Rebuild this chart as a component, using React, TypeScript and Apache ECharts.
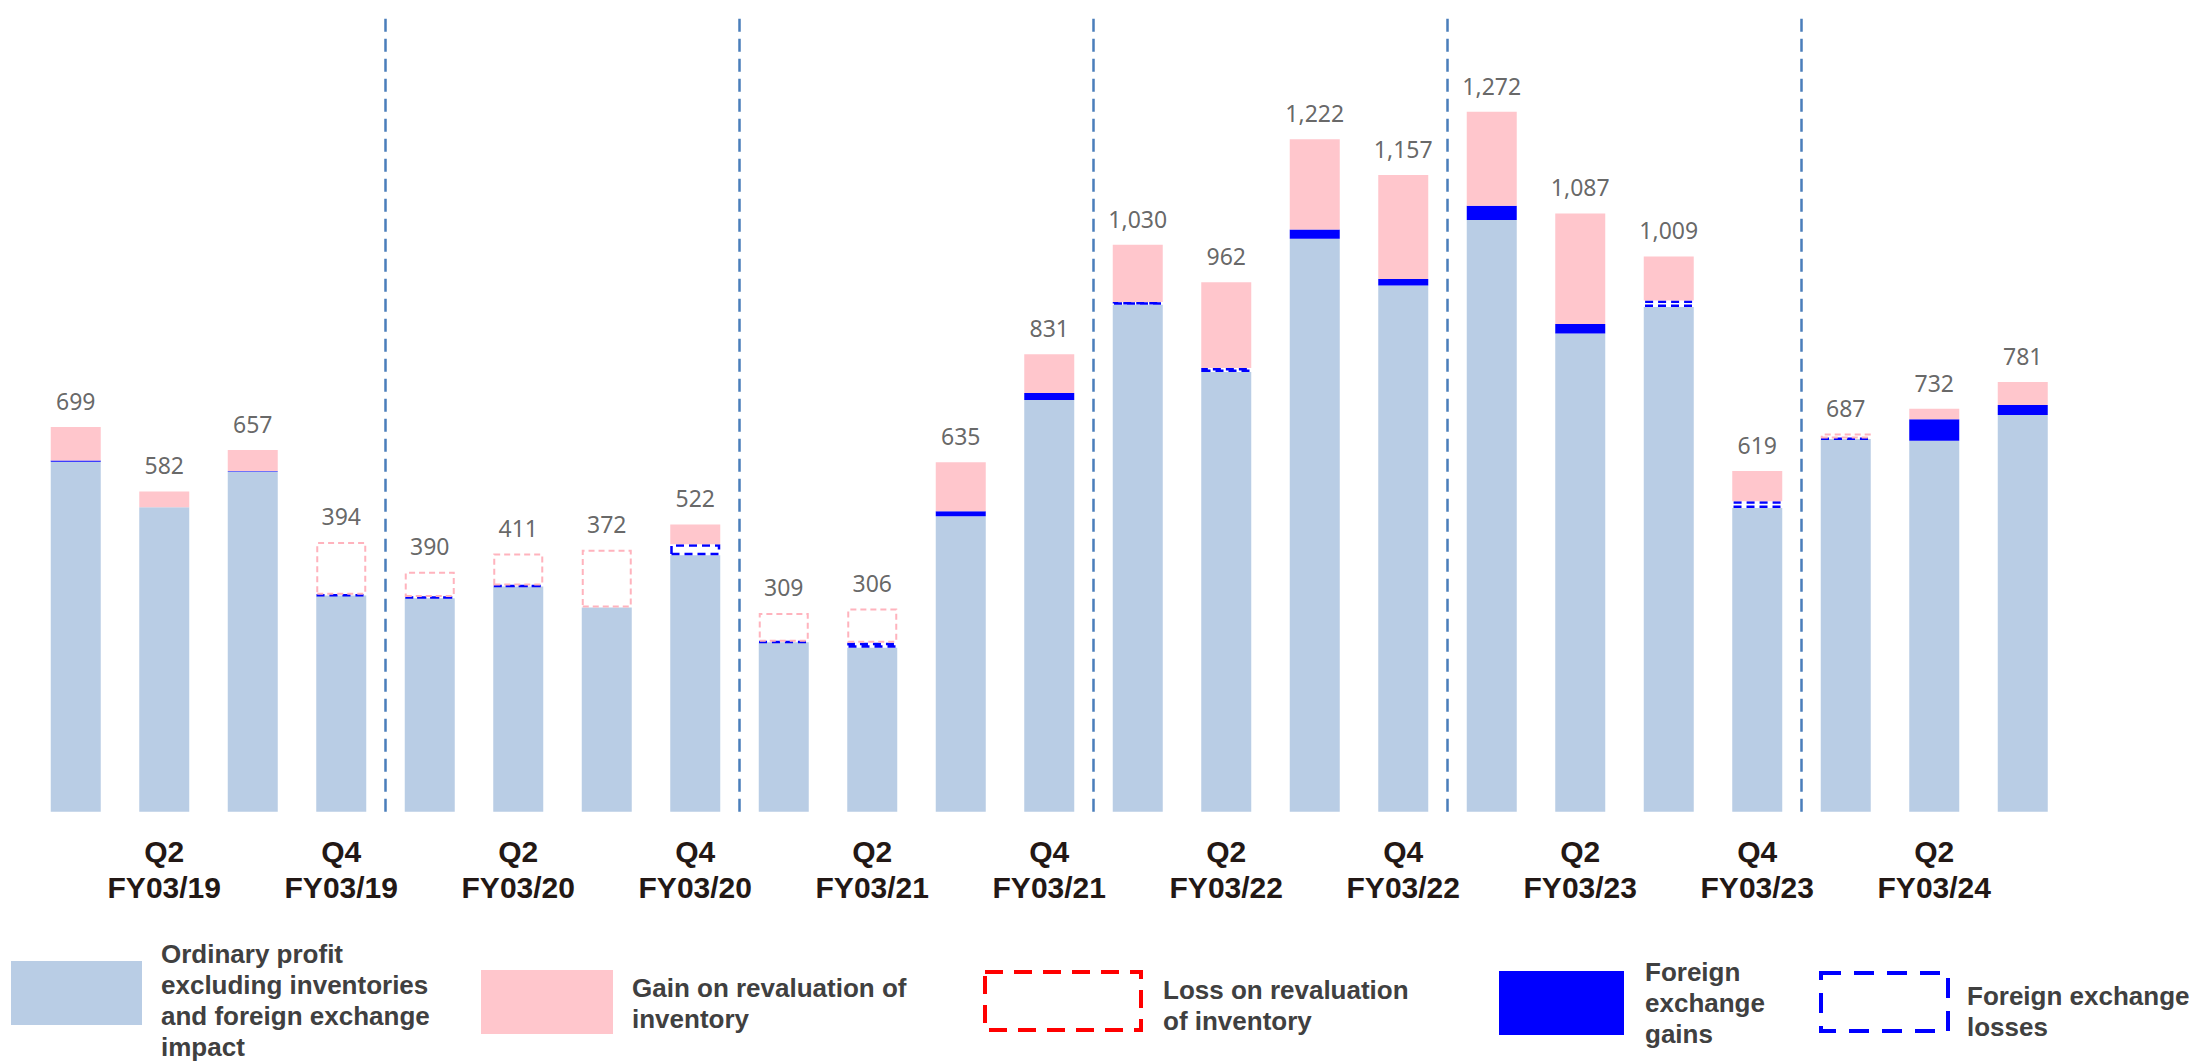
import React, { useEffect, useRef } from "react";
import * as echarts from "echarts";

// ---- data ----
const categories = [
  "Q1 FY03/19", "Q2 FY03/19", "Q3 FY03/19", "Q4 FY03/19",
  "Q1 FY03/20", "Q2 FY03/20", "Q3 FY03/20", "Q4 FY03/20",
  "Q1 FY03/21", "Q2 FY03/21", "Q3 FY03/21", "Q4 FY03/21",
  "Q1 FY03/22", "Q2 FY03/22", "Q3 FY03/22", "Q4 FY03/22",
  "Q1 FY03/23", "Q2 FY03/23", "Q3 FY03/23", "Q4 FY03/23",
  "Q1 FY03/24", "Q2 FY03/24", "Q3 FY03/24",
];
const totals = [699, 582, 657, 394, 390, 411, 372, 522, 309, 306, 635, 831, 1030, 962, 1222, 1157, 1272, 1087, 1009, 619, 687, 732, 781];
const baseProfit = [636, 553, 618, 393, 388, 409, 371, 466, 308, 298, 537, 748, 921, 799, 1041, 956, 1075, 869, 917, 552, 677, 674, 721];
const fxLosses = [null, null, null, 1, 2, 2, null, 20, 1, 9, null, null, 5, 7, null, null, null, null, 12, 12, 1, null, null];
const fxGains = [2, null, 1, null, null, null, null, null, null, null, 9, 13, null, null, 17, 12, 26, 17, null, null, null, 39, 18];
const invGains = [61, 29, 38, null, null, null, null, 36, null, null, 89, 70, 104, 156, 164, 189, 171, 201, 80, 55, null, 19, 42];
const invLosses = [null, null, null, 96, 46, 58, 105, null, 52, 62, null, null, null, null, null, null, null, null, null, null, 9, null, null];
const dividerPositions = [4, 8, 12, 16, 20];

const legendItems = [
  { label: "Ordinary profit\nexcluding inventories\nand foreign exchange\nimpact" },
  { label: "Gain on revaluation of\ninventory" },
  { label: "Loss on revaluation\nof inventory" },
  { label: "Foreign\nexchange\ngains" },
  { label: "Foreign exchange\nlosses" },
];

const C_BASE = "#b9cde5";
const C_PINK = "#ffc6cc";
const C_PINK_DASH = "#ffb3bd";
const C_BLUE = "#0000ff";
const C_RED = "#ff0000";
const LEGEND_FONT = "bold 26px 'Liberation Sans', Arial, sans-serif";
const LH = 31;

export default function App() {
  const ref = useRef<HTMLDivElement>(null);
  useEffect(() => {
    if (!ref.current) return;
    const chart = echarts.init(ref.current, undefined, { renderer: "svg" });
    const n = categories.length;
    const tops = categories.map((_, i) =>
      [baseProfit, fxLosses, fxGains, invGains, invLosses].reduce(
        (s, arr) => s + ((arr[i] as number | null) ?? 0),
        0
      )
    );
    const barCommon = { type: "bar", stack: "a", barWidth: 50, xAxisIndex: 0, yAxisIndex: 0 };
    const toData = (arr: (number | null)[]) => arr.map((v) => (v == null ? "-" : v));
    const txt = (x: number, y: number, text: string) => ({
      type: "text",
      x,
      y,
      style: { text, font: LEGEND_FONT, lineHeight: LH, fill: "#404040", verticalAlign: "middle" },
    });

    const legendGraphics: any[] = [
      { type: "rect", shape: { x: 11, y: 961, width: 131, height: 64 }, style: { fill: C_BASE } },
      txt(161, 1000, legendItems[0].label),
      { type: "rect", shape: { x: 481, y: 970, width: 132, height: 64 }, style: { fill: C_PINK } },
      txt(632, 1003.5, legendItems[1].label),
      { type: "rect", shape: { x: 985, y: 972, width: 156, height: 58 }, style: { fill: "none", stroke: C_RED, lineWidth: 4, lineDash: [18, 11] } },
      txt(1163, 1005.5, legendItems[2].label),
      { type: "rect", shape: { x: 1499, y: 971, width: 125, height: 64 }, style: { fill: C_BLUE } },
      txt(1645, 1003, legendItems[3].label),
      { type: "rect", shape: { x: 1821, y: 973, width: 127, height: 58 }, style: { fill: "none", stroke: C_BLUE, lineWidth: 4, lineDash: [20, 13] } },
      txt(1967, 1011, legendItems[4].label),
    ];

    chart.setOption({
      animation: false,
      backgroundColor: "#ffffff",
      grid: { left: 31.5, width: 2035.5, top: 13.7, height: 798, containLabel: false },
      xAxis: [
        {
          type: "category",
          data: categories,
          axisLine: { show: false },
          axisTick: { show: false },
          axisLabel: {
            interval: 0,
            margin: 22,
            fontSize: 30,
            lineHeight: 36,
            fontWeight: "bold",
            color: "#231815",
            fontFamily: "'Liberation Sans', Arial, sans-serif",
            formatter: (v: string) => {
              const [q, fy] = v.split(" ");
              return q === "Q2" || q === "Q4" ? `${q}\n${fy}` : "";
            },
          },
        },
        { type: "value", min: 0, max: n, show: false },
      ],
      yAxis: { type: "value", min: 0, max: 1450, show: false, splitLine: { show: false } },
      series: [
        { ...barCommon, name: "base", data: toData(baseProfit), itemStyle: { color: C_BASE } },
        {
          ...barCommon,
          name: "fxLoss",
          data: toData(fxLosses),
          itemStyle: { color: "rgba(255,255,255,0)", borderColor: C_BLUE, borderWidth: 2.5, borderType: [8, 5] },
        },
        { ...barCommon, name: "fxGain", data: toData(fxGains), itemStyle: { color: C_BLUE } },
        { ...barCommon, name: "invGain", data: toData(invGains), itemStyle: { color: C_PINK } },
        {
          ...barCommon,
          name: "invLoss",
          data: toData(invLosses),
          itemStyle: { color: "rgba(255,255,255,0)", borderColor: C_PINK_DASH, borderWidth: 2, borderType: [6, 4] },
        },
        {
          type: "scatter",
          name: "totals",
          xAxisIndex: 0,
          yAxisIndex: 0,
          symbolSize: 1,
          itemStyle: { color: "rgba(0,0,0,0)" },
          data: tops.map((t, i) => ({ value: [i, t], total: totals[i] })),
          label: {
            show: true,
            position: "top",
            distance: 14,
            fontSize: 23,
            color: "#404040",
            fontFamily: "'Noto Sans', 'Open Sans', sans-serif",
            formatter: (p: any) => p.data.total.toLocaleString("en-US"),
          },
          z: 5,
        },
        {
          type: "line",
          name: "dividers",
          xAxisIndex: 1,
          yAxisIndex: 0,
          data: [[0, 0], [n, 0]],
          showSymbol: false,
          lineStyle: { width: 0, opacity: 0 },
          silent: true,
          markLine: {
            silent: true,
            symbol: "none",
            label: { show: false },
            lineStyle: { color: "#4a7ebb", width: 2.5, type: [13, 7] },
            data: dividerPositions.map((x) => ({ xAxis: x })),
          },
        },
      ],
      graphic: legendGraphics,
    });
    return () => chart.dispose();
  }, []);
  return <div ref={ref} style={{ position: "absolute", left: 0, top: 0, width: 2199, height: 1063 }} />;
}
